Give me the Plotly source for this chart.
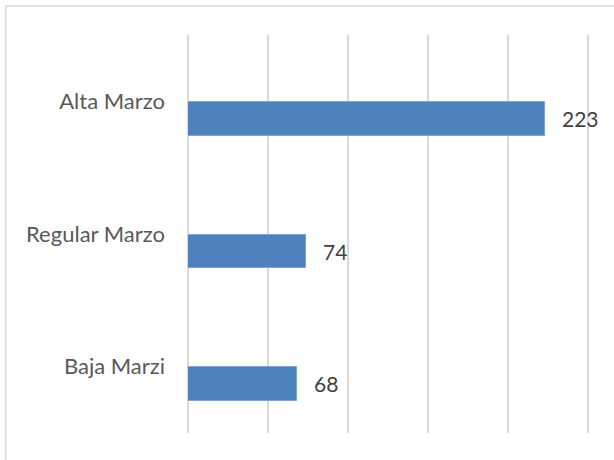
import plotly.graph_objects as go

categorias = ["Alta Marzo", "Regular Marzo", "Baja Marzi"]
valores = [223, 74, 68]

fig = go.Figure()
fig.add_trace(go.Bar(
    x=valores, y=categorias, orientation="h",
    marker=dict(color="#4f81bd", line=dict(color="#7fa3d3", width=1)),
    width=0.255, offset=0.005,
    hoverinfo="x+y",
))

# etiquetas de datos
for c, v in zip(categorias, valores):
    fig.add_annotation(x=v, y=c, text=str(v), showarrow=False,
                       xanchor="left", yanchor="middle", xshift=15, yshift=-17,
                       font=dict(size=21, color="#404040"))

fig.update_layout(
    width=614, height=460,
    margin=dict(l=188, r=23, t=35, b=27),
    paper_bgcolor="white", plot_bgcolor="white",
    font=dict(family="Lato, Carlito, sans-serif"),
    showlegend=False,
    bargap=0,
    shapes=[
        dict(type="line", xref="paper", yref="paper", x0=-0.452, x1=-0.452, y0=1.0729, y1=-0.2,
             line=dict(color="#d9d9d9", width=1.5)),
        dict(type="line", xref="paper", yref="paper", x0=-0.452, x1=1.2, y0=1.0729, y1=1.0729,
             line=dict(color="#d9d9d9", width=1.5)),
    ],
)
fig.update_xaxes(range=[0, 252], tick0=0, dtick=50, showticklabels=False, showgrid=True,
                 gridcolor="#d9d9d9", gridwidth=1.5, zeroline=True, zerolinecolor="#d9d9d9",
                 zerolinewidth=1.5, showline=False, fixedrange=True)
fig.update_yaxes(categoryorder="array", categoryarray=categorias, autorange="reversed",
                 showgrid=False, showline=False, ticks="", ticklabelstandoff=22,
                 tickfont=dict(size=22, color="#595959"), fixedrange=True)

fig.write_html("out.html", config={"displayModeBar": False},
               post_script="document.body.style.margin='0';")
